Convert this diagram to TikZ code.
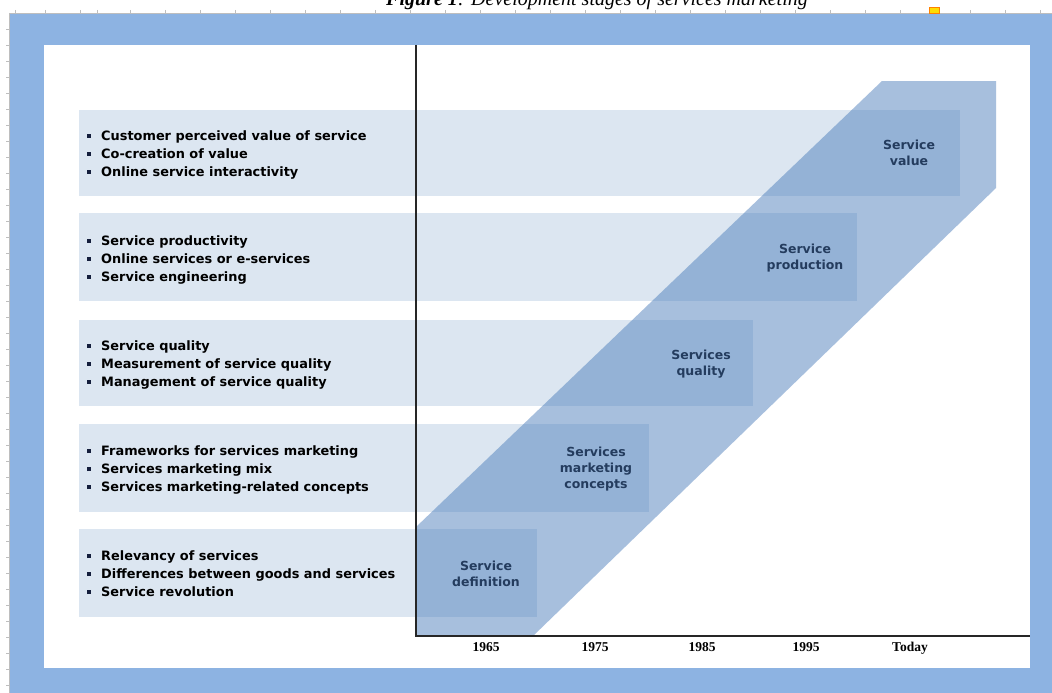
\documentclass[tikz,border=0pt]{standalone}
\usepackage{fontspec}
\setmainfont{Liberation Serif}
\newfontfamily\dvs{DejaVu Sans}
\definecolor{frameblue}{RGB}{141,179,226}
\definecolor{lightband}{RGB}{220,230,241}
\definecolor{diagcol}{RGB}{65,117,183}
\definecolor{labcol}{RGB}{36,60,94}
\definecolor{bulcol}{RGB}{20,30,60}
\definecolor{rulergray}{RGB}{190,190,190}
\newcommand\sqb{{\color{bulcol}\rule[2.5pt]{4pt}{4pt}}\hspace{10pt}}
\begin{document}
\begin{tikzpicture}[x=1pt,y=-1pt,
  bt/.style={anchor=base west,inner sep=0pt,font=\dvs\bfseries\fontsize{12.9}{18}\selectfont},
  lb/.style={align=center,inner sep=0pt,text=labcol,font=\dvs\bfseries\fontsize{12.5}{16}\selectfont},
  yr/.style={anchor=base,inner sep=0pt,font=\bfseries\fontsize{13.5}{15}\selectfont},
  band/.style={fill=lightband},
  diag/.style={fill=diagcol,fill opacity=0.46},
  axis/.style={line width=1.3pt,black!85}]
\useasboundingbox (0,0) rectangle (1052,693);
% caption (cut off at the top, as in the reference)
\node[anchor=base,inner sep=0pt,font=\fontsize{20}{22}\selectfont] (cap) at (597,6)
  {\textbf{\textit{Figure 1}}\textit{: Development stages of services marketing}};
% frame
\fill[frameblue] (9,13) rectangle (1052,693);
\fill[white] (44,45) rectangle (1030,668);
\draw[rulergray,line width=0.8pt] (9,13) -- (1052,13);
\draw[rulergray,line width=0.8pt] (9,13) -- (9,693);
\foreach \t in {29,45,61,77,93,109,125,141,157,173,189,205,221,237,253,269,285,301,317,333,349,365,381,397,413,429,445,461,477,493,509,525,541,557,573,589,605,621,637,653,669,685}
  \draw[rulergray,line width=0.5pt] (6,\t) -- (9,\t);
\foreach \t in {15,45,80,97,130,165,200,235,270,305,340,375,410,445,480,515,550,585,620,655,690,725,760,795,830,865,900,970,1005,1040}
  \draw[rulergray,line width=0.5pt] (\t,10) -- (\t,13);
\fill[yellow!80!orange,draw=orange] (929,7) rectangle (939,13);
% light bands
\fill[band] (79,110) rectangle (960,196);
\fill[band] (79,213) rectangle (857,301);
\fill[band] (79,320) rectangle (753,406);
\fill[band] (79,424) rectangle (649,512);
\fill[band] (79,529) rectangle (537,617);
% diagonal band
\coordinate (O) at (416,636);
\coordinate (Ytop) at (416,45);
\coordinate (Xend) at (1030,636);
\fill[diag] (416,636) -- (416,527) -- (882,81) -- (996,81) -- (996,188) -- (533,636) -- cycle;
% axes
\draw[axis] (Ytop) -- (O) -- (Xend);
% bullet texts
\node[bt] (b11) at (87,140) {\sqb Customer perceived value of service};
\node[bt] (b12) at (87,158) {\sqb Co-creation of value};
\node[bt] (b13) at (87,176) {\sqb Online service interactivity};
\node[bt] (b21) at (87,245) {\sqb Service productivity};
\node[bt] (b22) at (87,263) {\sqb Online services or e-services};
\node[bt] (b23) at (87,281) {\sqb Service engineering};
\node[bt] (b31) at (87,350) {\sqb Service quality};
\node[bt] (b32) at (87,368) {\sqb Measurement of service quality};
\node[bt] (b33) at (87,386) {\sqb Management of service quality};
\node[bt] (b41) at (87,455.5) {\sqb Frameworks for services marketing};
\node[bt] (b42) at (87,473.5) {\sqb Services marketing mix};
\node[bt] (b43) at (87,491.5) {\sqb Services marketing-related concepts};
\node[bt] (b51) at (87,560.5) {\sqb Relevancy of services};
\node[bt] (b52) at (87,578.5) {\sqb Differences between goods and services};
\node[bt] (b53) at (87,596.5) {\sqb Service revolution};
% stage labels
\node[lb] (l1) at (909,153) {Service\\value};
\node[lb] (l2) at (805,258) {Service\\production};
\node[lb] (l3) at (701,364) {Services\\quality};
\node[lb] (l4) at (596,469) {Services\\marketing\\concepts};
\node[lb] (l5) at (486,574) {Service\\definition};
% years
\node[yr] (y1) at (486,651) {1965};
\node[yr] (y2) at (595,651) {1975};
\node[yr] (y3) at (702,651) {1985};
\node[yr] (y4) at (806,651) {1995};
\node[yr] (y5) at (910,651) {Today};
\end{tikzpicture}
\end{document}
